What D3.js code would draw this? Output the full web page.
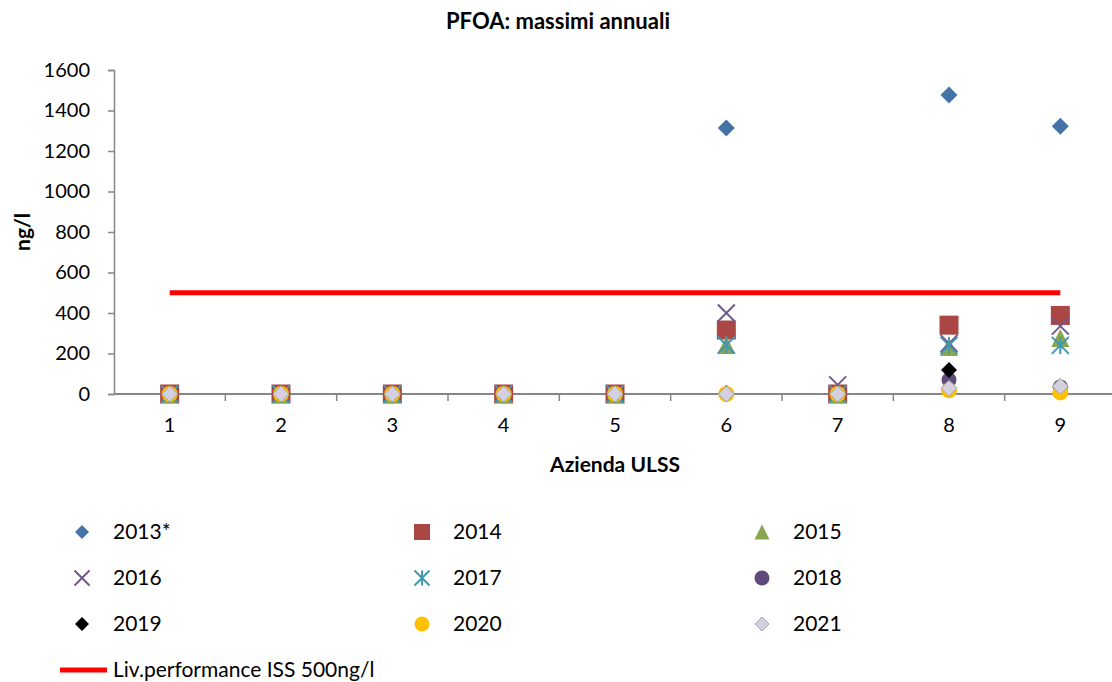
<!DOCTYPE html>
<html>
<head>
<meta charset="utf-8">
<script src="https://cdn.jsdelivr.net/npm/d3@7"></script>
<style>
  body { margin: 0; background: #fff; }
  text { font-family: Lato, "Open Sans", sans-serif; fill: #000; }
</style>
</head>
<body>
<svg id="chart" width="1112" height="682"></svg>
<script>
// categories (Azienda ULSS)
const sites = [1, 2, 3, 4, 5, 6, 7, 8, 9];
const yTicks = [0, 200, 400, 600, 800, 1000, 1200, 1400, 1600];
const threshold = 500;

// max annual values per year, one per site
const v2013 = [0, 0, 0, 0, 0, 1313, 0, 1477, 1322];
const v2014 = [0, 0, 0, 0, 0, 316, 0, 340, 388];
const v2015 = [0, 0, 0, 0, 0, 242, 0, 232, 277];
const v2016 = [0, 0, 0, 0, 0, 400, 45, 250, 335];
const v2017 = [0, 0, 0, 0, 0, 242, 0, 240, 240];
const v2018 = [0, 0, 0, 0, 0, 0, 0, 70, 35];
const v2019 = [0, 0, 0, 0, 0, 5, 0, 118, 35];
const v2020 = [0, 0, 0, 0, 0, 0, 0, 18, 8];
const v2021 = [0, 0, 0, 0, 0, 0, 0, 28, 38];

const series = [
    { name: "2013*", values: v2013, shape: "diamond", color: "#4572A7", size: 17 },
    { name: "2014", values: v2014, shape: "square", color: "#AA4643", size: 19 },
    { name: "2015", values: v2015, shape: "triangle", color: "#89A54E", size: 18 },
    { name: "2016", values: v2016, shape: "x", color: "#71588F", size: 17 },
    { name: "2017", values: v2017, shape: "star", color: "#4198AF", size: 17 },
    { name: "2018", values: v2018, shape: "circle", color: "#604A7B", size: 15 },
    { name: "2019", values: v2019, shape: "diamond", color: "#000000", size: 16 },
    { name: "2020", values: v2020, shape: "circle", color: "#FFC000", size: 16 },
    { name: "2021", values: v2021, shape: "diamond", color: "#D4D0E2", stroke: "#A6A6A6", size: 16 },
];

const svg = d3.select("#chart");
const plotLeft = 114, plotRight = 1116, plotTop = 70, plotBottom = 394;

const x = d3.scaleBand().domain(sites).range([plotLeft, plotRight]);
const y = d3.scaleLinear().domain([0, 1600]).range([plotBottom, plotTop]);
const axisColor = "#868686";

// title
svg.append("text")
    .attr("x", 558).attr("y", 29)
    .attr("text-anchor", "middle")
    .style("font-weight", "bold").style("font-size", "22px")
    .text("PFOA: massimi annuali");

// y axis
const yAxis = svg.append("g")
    .attr("transform", `translate(${plotLeft},0)`)
    .call(d3.axisLeft(y).tickValues(yTicks).tickFormat(d3.format("d")).tickSize(6).tickPadding(18));
yAxis.selectAll("path, line").attr("stroke", axisColor).attr("stroke-width", 1.5);
yAxis.selectAll("text").style("font-size", "20px").style("font-family", "Lato, sans-serif");

// x axis: line plus ticks at category boundaries
const xg = svg.append("g");
xg.append("line")
    .attr("x1", plotLeft).attr("x2", plotRight)
    .attr("y1", y(0)).attr("y2", y(0))
    .attr("stroke", axisColor).attr("stroke-width", 2);
xg.selectAll("line.tick")
    .data(sites.slice(1).concat(["end"]))
    .enter().append("line")
    .attr("class", "tick")
    .attr("x1", (d) => d === "end" ? plotRight : x(d))
    .attr("x2", (d) => d === "end" ? plotRight : x(d))
    .attr("y1", y(0)).attr("y2", y(0) + 7)
    .attr("stroke", axisColor).attr("stroke-width", 1.5);
xg.selectAll("text.lab")
    .data(sites)
    .enter().append("text")
    .attr("class", "lab")
    .attr("x", (d) => x(d) + x.bandwidth() / 2)
    .attr("y", y(0) + 38)
    .attr("text-anchor", "middle")
    .style("font-size", "20px")
    .text((d) => d);

// axis titles
svg.append("text")
    .attr("x", 615).attr("y", 472)
    .attr("text-anchor", "middle")
    .style("font-weight", "bold").style("font-size", "21px")
    .text("Azienda ULSS");
svg.append("text")
    .attr("transform", "translate(30,232) rotate(-90)")
    .attr("text-anchor", "middle")
    .style("font-weight", "bold").style("font-size", "21px")
    .text("ng/l");

// threshold line
const cx = (d) => x(d) + x.bandwidth() / 2;
svg.append("line")
    .attr("x1", cx(sites[0])).attr("x2", cx(sites[sites.length - 1]))
    .attr("y1", y(threshold)).attr("y2", y(threshold))
    .attr("stroke", "#FF0000").attr("stroke-width", 5);

// marker drawing
function drawMarker(g, s, px, py) {
    const r = s.size / 2;
    if (s.shape === "diamond") {
        g.append("path")
            .attr("d", `M${px},${py - r}L${px + r},${py}L${px},${py + r}L${px - r},${py}Z`)
            .attr("fill", s.color)
            .attr("stroke", s.stroke || "none").attr("stroke-width", 1);
    } else if (s.shape === "square") {
        g.append("rect")
            .attr("x", px - r).attr("y", py - r)
            .attr("width", s.size).attr("height", s.size)
            .attr("fill", s.color);
    } else if (s.shape === "triangle") {
        g.append("path")
            .attr("d", `M${px},${py - r}L${px + r},${py + r}L${px - r},${py + r}Z`)
            .attr("fill", s.color);
    } else if (s.shape === "x") {
        g.append("path")
            .attr("d", `M${px - r},${py - r}L${px + r},${py + r}M${px + r},${py - r}L${px - r},${py + r}`)
            .attr("stroke", s.color).attr("stroke-width", 2);
    } else if (s.shape === "star") {
        g.append("path")
            .attr("d", `M${px - r},${py - r}L${px + r},${py + r}M${px + r},${py - r}L${px - r},${py + r}M${px},${py - r}L${px},${py + r}`)
            .attr("stroke", s.color).attr("stroke-width", 2);
    } else if (s.shape === "circle") {
        g.append("circle")
            .attr("cx", px).attr("cy", py).attr("r", r)
            .attr("fill", s.color);
    }
}

const marks = svg.append("g");
series.forEach((s) => {
    const g = marks.append("g").attr("class", "series");
    sites.forEach((site, i) => {
        drawMarker(g, s, cx(site), y(s.values[i]));
    });
});

// legend
const legend = svg.append("g");
const colX = [82, 422, 762];
const rowY = [532, 578, 624];
series.forEach((s, i) => {
    const lx = colX[i % 3], ly = rowY[Math.floor(i / 3)];
    const ls = Object.assign({}, s, { size: s.shape === "square" ? 16 : s.shape === "diamond" ? 14 : 15 });
    drawMarker(legend, ls, lx, ly);
    legend.append("text")
        .attr("x", lx + 31).attr("y", ly + 7)
        .style("font-size", "21px")
        .text(s.name);
});
legend.append("line")
    .attr("x1", 60).attr("x2", 107)
    .attr("y1", 670).attr("y2", 670)
    .attr("stroke", "#FF0000").attr("stroke-width", 5);
legend.append("text")
    .attr("x", 113).attr("y", 677)
    .style("font-size", "21px")
    .text("Liv.performance ISS 500ng/l");
</script>
</body>
</html>
